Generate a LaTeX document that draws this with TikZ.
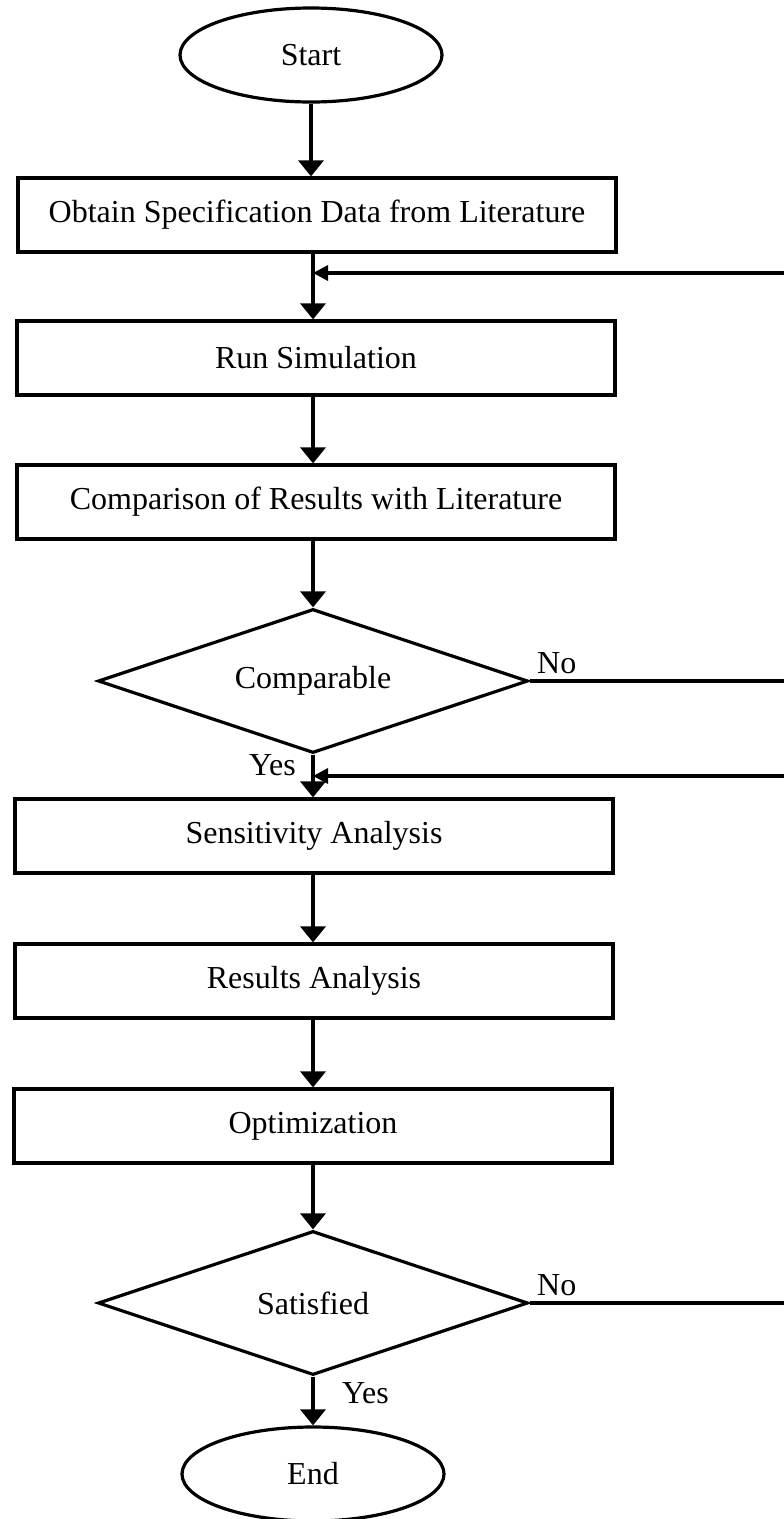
\documentclass[tikz,border=0pt]{standalone}
\usepackage{fontspec}
\setmainfont{Liberation Serif}
\usetikzlibrary{shapes.geometric,arrows.meta}
\begin{document}
\begin{tikzpicture}[x=1pt,y=-1pt,
  every node/.style={font=\fontsize{32}{38}\selectfont},
  term/.style={ellipse,draw,line width=3.2pt,minimum width=262pt,minimum height=94pt,inner sep=0pt},
  procbox/.style={rectangle,draw,line width=3.2pt,minimum width=598pt,minimum height=74pt,inner sep=0pt},
  decide/.style={diamond,draw,line width=3.2pt,minimum width=430pt,minimum height=144pt,inner sep=0pt,aspect=3},
  flow/.style={line width=3.2pt,-{Triangle[length=16pt,width=25pt]}},
  back/.style={line width=3.2pt,-{Triangle[length=15pt,width=15pt]}},
  lbl/.style={inner sep=0pt}]
\clip (0,0) rectangle (784,1519);
\node[term] (start) at (311,55) {Start};
\node[procbox] (b1) at (317,215) {Obtain Specification Data from Literature};
\node[procbox] (b2) at (316,358) {Run Simulation};
\node[procbox] (b3) at (316,502) {Comparison of Results with Literature};
\node[decide] (d1) at (313,681) {Comparable};
\node[procbox] (b4) at (314,836) {Sensitivity Analysis};
\node[procbox] (b5) at (314,981) {Results Analysis};
\node[procbox] (b6) at (313,1126) {Optimization};
\node[decide] (d2) at (313,1303) {Satisfied};
\node[term] (end) at (313,1474) {End};
\coordinate (j1) at (313,273);
\coordinate (j2) at (313,776);
\coordinate (r1) at (800,681);
\coordinate (r2) at (800,1303);
\draw[flow] (start.south) -- (start.south |- b1.north);
\draw[flow] (b1.south -| j1) -- (j1 |- b2.north);
\draw[flow] (b2.south -| j1) -- (j1 |- b3.north);
\draw[flow] (b3.south -| d1.north) -- (d1.north);
\draw[flow] (d1.south) -- (d1.south |- b4.north);
\draw[flow] (b4.south -| d1.south) -- (d1.south |- b5.north);
\draw[flow] (b5.south -| d1.south) -- (d1.south |- b6.north);
\draw[flow] (b6.south -| d2.north) -- (d2.north);
\draw[flow] (d2.south) -- (end.north);
\draw[back] (d1.east) -- (r1) -- (r1 |- j1) -- (j1);
\draw[back] (d2.east) -- (r2) -- (r2 |- j2) -- (j2);
\node[lbl,anchor=base west] (no1) at (537,673) {No};
\node[lbl,anchor=base west] (no2) at (537,1295) {No};
\node[lbl,anchor=base east] (yes1) at (296,775) {Yes};
\node[lbl,anchor=base west] (yes2) at (342,1403) {Yes};
\end{tikzpicture}
\end{document}
